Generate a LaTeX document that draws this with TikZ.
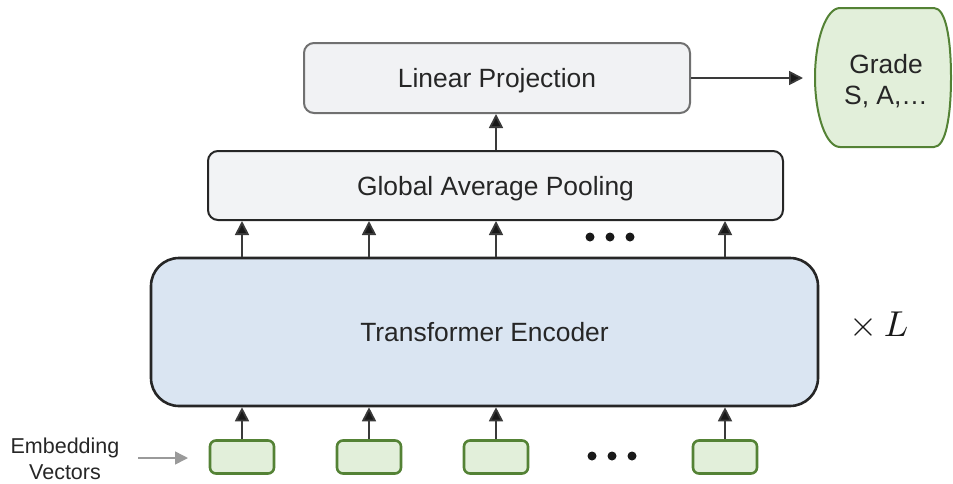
\documentclass[tikz,border=0pt]{standalone}
\usepackage{fontspec}
\setmainfont{Liberation Sans}
\usetikzlibrary{arrows.meta}
\definecolor{lpfill}{HTML}{F1F2F4}
\definecolor{lpdraw}{HTML}{707070}
\definecolor{gapfill}{HTML}{F2F3F5}
\definecolor{darkline}{HTML}{262626}
\definecolor{tefill}{HTML}{DAE5F2}
\definecolor{grfill}{HTML}{E2EFDA}
\definecolor{grdraw}{HTML}{548235}
\definecolor{conn}{HTML}{3A3A3A}
\definecolor{lightarrow}{HTML}{9A9A9A}
\begin{document}
\begin{tikzpicture}[x=1pt,y=1pt,
  txt/.style={font=\fontsize{26.4}{31}\selectfont, text=black!85},
  box/.style={txt, draw, rounded corners=10pt, inner sep=0pt, text height=19pt, text depth=0pt},
  embbox/.style={draw=grdraw, fill=grfill, line width=2.6pt, rounded corners=6pt, minimum width=64pt, minimum height=33pt, inner sep=0pt},
  conarrow/.style={draw=conn, line width=1.8pt, -{Triangle[length=14pt,width=14pt,fill=black!90]}},
  dot/.style={fill=black!90, circle, inner sep=0pt, minimum size=9pt}
]
\useasboundingbox (0,0) rectangle (953,-483);

% Linear projection
\node[box, draw=lpdraw, fill=lpfill, line width=2pt, minimum width=386pt, minimum height=70pt] (lp) at (497,-78) {Linear Projection};
% Global average pooling
\node[box, draw=darkline, fill=gapfill, line width=2pt, minimum width=575pt, minimum height=69pt] (gap) at (495.5,-185.5) {Global Average Pooling};
% Transformer encoder
\node[box, draw=darkline, fill=tefill, line width=2.6pt, rounded corners=28pt, minimum width=667pt, minimum height=148pt] (te) at (484.5,-332) {Transformer Encoder};

% Grade shape
\filldraw[fill=grfill, draw=grdraw, line width=2pt]
  (840,-8) -- (934,-8) .. controls (946,-8) and (951,-40) .. (951,-77.5)
  .. controls (951,-115) and (946,-147) .. (934,-147) -- (840,-147)
  .. controls (826,-147) and (815,-115) .. (815,-77.5)
  .. controls (815,-40) and (826,-8) .. (840,-8);
\node[txt, align=center, inner sep=0pt] (grade) at (886,-81) {Grade\\S, A,…};
\coordinate (gradein) at (803,-78);

% Embedding boxes
\node[embbox] (e1) at (242,-457) {};
\node[embbox] (e2) at (369,-457) {};
\node[embbox] (e3) at (496,-457) {};
\node[embbox] (e4) at (725,-457) {};

% arrows embeddings -> encoder
\foreach \i in {1,2,3,4} {
  \draw[conarrow] (e\i.north) -- (e\i.north |- te.south);
}
% arrows encoder -> GAP
\foreach \i in {1,2,3,4} {
  \draw[conarrow] (e\i.north |- te.north) -- (e\i.north |- gap.south);
}
% GAP -> LP
\draw[conarrow] (e3.north |- gap.north) -- (e3.north |- lp.south);
% LP -> Grade
\draw[conarrow] (lp.east) -- (gradein);

% dots
\node[dot] (d1) at (590,-237) {};
\node[dot] (d2) at (610,-237) {};
\node[dot] (d3) at (630,-237) {};
\node[dot] (d4) at (592,-456) {};
\node[dot] (d5) at (612,-456) {};
\node[dot] (d6) at (632,-456) {};

% times L
\node[scale=3.6, text=black!90, inner sep=0pt] (times) at (879,-326) {$\times\, L$};

% Embedding vectors label
\node[font=\fontsize{21.5}{26}\selectfont, text=black!85, align=center, inner sep=0pt] (emb) at (65,-459) {Embedding\\Vectors};
\coordinate (embstart) at (138,-458);
\coordinate (embend) at (188,-458);
\draw[draw=lightarrow, line width=1.5pt, -{Triangle[length=13pt,width=13pt,fill=lightarrow]}] (embstart) -- (embend);
\end{tikzpicture}
\end{document}
